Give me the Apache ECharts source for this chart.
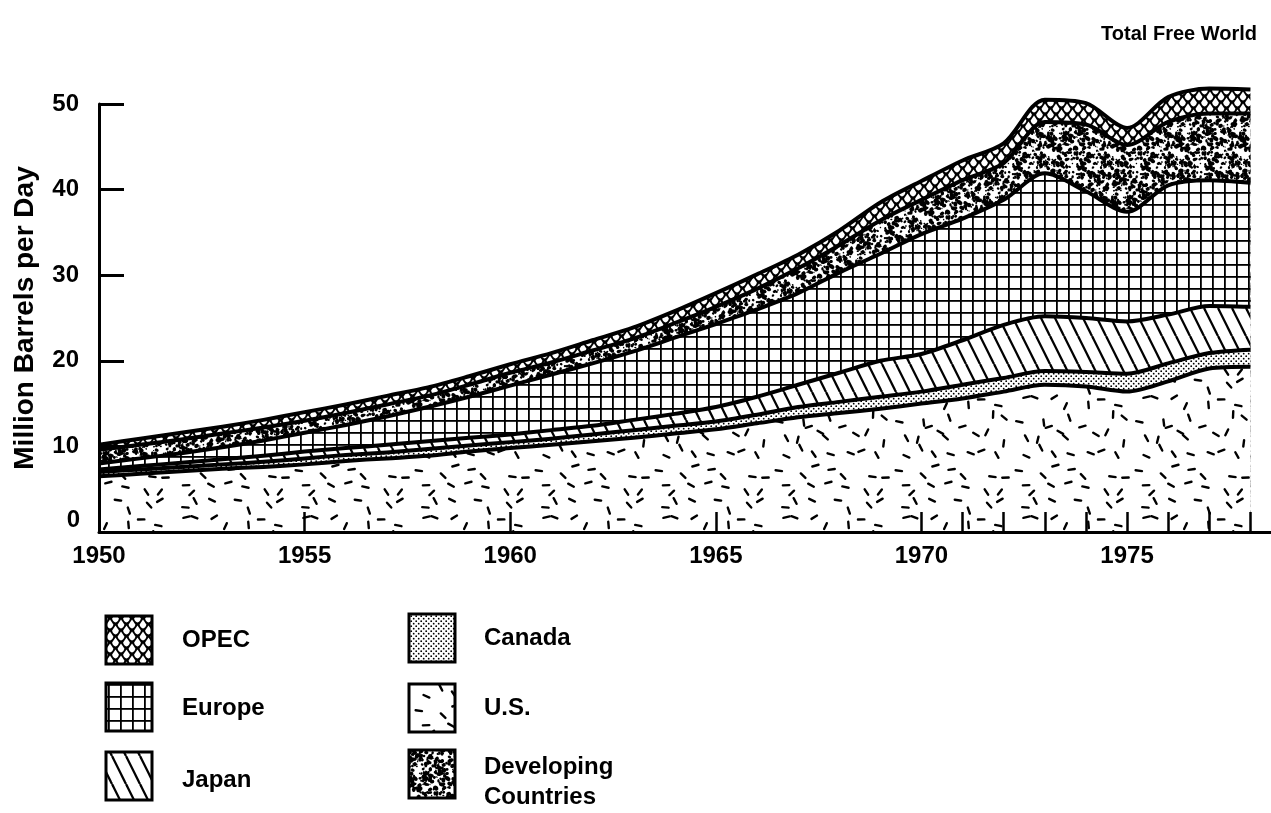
<!DOCTYPE html>
<html><head><meta charset="utf-8">
<script src="https://cdn.jsdelivr.net/npm/echarts@6/dist/echarts.min.js"></script>
<style>html,body{margin:0;padding:0;background:#fff}#c{width:1271px;height:813px}</style>
</head><body><div id="c"></div>
<script>
// ---- data (million barrels per day, per region) ----
const years = [1950,1951,1952,1953,1954,1955,1956,1957,1958,1959,1960,1961,1962,1963,1964,1965,1966,1967,1968,1969,1970,1971,1972,1973,1974,1975,1976,1977,1978];
const usData = [6.5,6.8,7.1,7.4,7.6,7.9,8.3,8.6,8.9,9.4,9.8,10.2,10.6,11.0,11.5,12.0,12.7,13.4,13.9,14.4,15.0,15.6,16.4,17.2,17.0,16.4,17.6,19.1,19.3];
const canadaData = [0.5,0.5,0.5,0.5,0.6,0.7,0.7,0.7,0.8,0.7,0.7,0.7,0.8,0.9,0.9,0.9,1.0,1.2,1.3,1.4,1.4,1.6,1.6,1.6,1.7,2.1,2.1,1.8,2.0];
const japanData = [0.3,0.4,0.5,0.6,0.7,0.8,0.8,0.9,0.9,0.9,0.9,1.0,1.0,1.2,1.4,1.7,2.1,2.6,3.4,4.2,4.4,5.2,6.2,6.4,6.3,6.1,5.7,5.5,5.0];
const europeData = [0.7,0.9,1.1,1.4,1.8,2.2,2.7,3.3,4.0,4.8,5.7,6.5,7.3,8.0,8.9,9.7,10.2,10.7,11.7,12.5,14.0,14.2,14.6,16.7,14.8,12.8,15.1,14.7,14.5];
const developingData = [1.6,1.6,1.6,1.6,1.5,1.4,1.4,1.4,1.3,1.4,1.5,1.4,1.5,1.5,1.7,2.0,2.4,2.9,3.2,3.9,4.0,4.5,4.3,6.0,7.8,7.8,7.4,7.8,8.1];
const opecData = [0.6,0.7,0.8,0.8,0.9,1.0,1.0,1.0,1.0,1.0,1.0,1.1,1.2,1.3,1.4,1.6,1.7,1.6,1.7,2.1,2.2,2.3,2.3,2.6,2.5,2.0,2.9,2.9,2.8];
const yTicks = [0,10,20,30,40,50];
const xTickYears = [1955,1960,1965,1970,1971,1972,1973,1974,1975,1976,1977,1978];

// ---- patterns ----
function tile(w,h,draw){const c=document.createElement('canvas');c.width=w;c.height=h;const g=c.getContext('2d');g.fillStyle='#fff';g.fillRect(0,0,w,h);g.fillStyle='#000';g.strokeStyle='#000';draw(g,w,h);return c;}
function lcg(seed){let s=seed>>>0;return ()=>{s=(Math.imul(s,1664525)+1013904223)>>>0;return s/4294967296;};}
const patOPEC = tile(11,12,(g,w,h)=>{g.fillStyle='#000';g.fillRect(0,0,w,h);g.fillStyle='#fff';g.lineJoin='round';
  [[w/2,h/2],[0,0],[w,0],[0,h],[w,h]].forEach(([cx,cy])=>{g.beginPath();g.moveTo(cx,cy-4.6);g.lineTo(cx+3.4,cy+0.6);g.quadraticCurveTo(cx+2.4,cy+4.4,cx,cy+4.4);g.quadraticCurveTo(cx-2.4,cy+4.4,cx-3.4,cy+0.6);g.closePath();g.fill();});});
const patEurope = tile(12,12,(g,w,h)=>{g.fillRect(0,0,w,1.8);g.fillRect(0,0,1.8,h);});
const patJapan = tile(14,28,(g,w,h)=>{g.lineWidth=2.3;[-w,0,w].forEach(o=>{g.beginPath();g.moveTo(o,0);g.lineTo(o+w,h);g.stroke();});});
const patCanada = tile(5,5,(g)=>{g.beginPath();g.arc(1.2,1.2,0.9,0,7);g.fill();g.beginPath();g.arc(3.7,3.7,0.9,0,7);g.fill();});
const patUS = tile(120,120,(g,w,h)=>{const r=lcg(23);g.lineWidth=2.4;g.lineCap='round';
  const cell=18;
  for(let cy=0;cy<Math.round(h/cell);cy++)for(let cx=0;cx<Math.round(w/cell);cx++){
    const x=cx*w/Math.round(w/cell)+2+r()*(cell-4), y=cy*h/Math.round(h/cell)+2+r()*(cell-4), a=(r()-0.5)*Math.PI, L=3.2;
    for(const ox of [-w,0,w])for(const oy of [-h,0,h]){g.beginPath();g.moveTo(x+ox-L*Math.cos(a),y+oy-L*Math.sin(a));g.lineTo(x+ox+L*Math.cos(a),y+oy+L*Math.sin(a));g.stroke();}}});
const patDev = tile(64,64,(g,w,h)=>{const r=lcg(91);
  for(let i=0;i<480;i++){const x=r()*w,y=r()*h,rad=0.5+r()*1.7,e=0.7+r()*0.8,rot=r()*3;
    for(const ox of [-w,0,w])for(const oy of [-h,0,h]){g.beginPath();g.ellipse(x+ox,y+oy,rad*e,rad,rot,0,7);g.fill();}}});
const P = c => ({image:c, repeat:'repeat'});

// cumulative tops computed from the layer arrays (bottom to top)
const layers = [
  ['U.S.', usData, patUS],
  ['Canada', canadaData, patCanada],
  ['Japan', japanData, patJapan],
  ['Europe', europeData, patEurope],
  ['Developing Countries', developingData, patDev],
  ['OPEC', opecData, patOPEC]
];
const running = years.map(()=>0);
const series = layers.map(([name,vals,pat],k) => {
  const data = years.map((y,i)=>{running[i] = +(running[i] + vals[i]).toFixed(2); return [y, running[i]];});
  return {
    type:'line', name, z: 9 - k,
    data, smooth:0.3, symbol:'none', clip:false,
    lineStyle:{color:'#000', width:4, join:'round'},
    areaStyle:{color:P(pat), opacity:1, origin:'start'}
  };
});

const chart = echarts.init(document.getElementById('c'), null, {renderer:'canvas'});
const font = 'Liberation Sans, Arial, Helvetica, sans-serif';

// legend drawn as graphics
const legendItems = [
  ['OPEC', patOPEC, 106, 616, 182, 640],
  ['Europe', patEurope, 106, 683, 182, 708],
  ['Japan', patJapan, 106, 752, 182, 780],
  ['Canada', patCanada, 409, 614, 484, 638],
  ['U.S.', patUS, 409, 684, 484, 708],
  ['Developing\nCountries', patDev, 409, 750, 484, 782]
];
const graphics = [];
legendItems.forEach(([label,pat,x,y,tx,ty])=>{
  graphics.push({type:'rect', shape:{x, y, width:46, height:48}, style:{fill:P(pat), stroke:'#000', lineWidth:3}});
  graphics.push({type:'text', x:tx, y:ty, style:{text:label, font:'bold 24px '+font, fill:'#000', textVerticalAlign:'middle', verticalAlign:'middle', lineHeight:30}});
});
graphics.push({type:'text', right:14, top:24, style:{text:'Total Free World', font:'bold 20px '+font, fill:'#000'}});
graphics.push({type:'text', x:80, y:520, style:{text:'0', font:'bold 24px '+font, fill:'#000', textAlign:'right', align:'right', verticalAlign:'middle', textVerticalAlign:'middle'}});

chart.setOption({
  animation:false,
  grid:{left:99, top:104, width:1172, height:428, containLabel:false, outerBoundsMode:'none'},
  xAxis:{type:'value', min:1950, max:1978.5, interval:5, z:10,
    axisLine:{lineStyle:{color:'#000', width:3}},
    axisTick:{show:true, inside:true, length:20, customValues:xTickYears, lineStyle:{color:'#000', width:2.5}},
    axisLabel:{color:'#000', fontFamily:font, fontWeight:'bold', fontSize:24, margin:12, showMaxLabel:false,
      formatter:v => (v%5===0 ? String(v) : '')},
    splitLine:{show:false}},
  yAxis:{type:'value', min:0, max:50, interval:10, z:10,
    name:'Million Barrels per Day', nameLocation:'middle', nameGap:60, nameRotate:90,
    nameTextStyle:{color:'#000', fontFamily:font, fontWeight:'bold', fontSize:28},
    axisLine:{show:true, lineStyle:{color:'#000', width:3}},
    axisTick:{show:true, inside:true, length:25, lineStyle:{color:'#000', width:3}},
    axisLabel:{color:'#000', fontFamily:font, fontWeight:'bold', fontSize:24, margin:20, showMinLabel:false,
      formatter:v => (yTicks.includes(v) ? String(v) : '')},
    splitLine:{show:false}},
  series,
  graphic: graphics
});
</script></body></html>
